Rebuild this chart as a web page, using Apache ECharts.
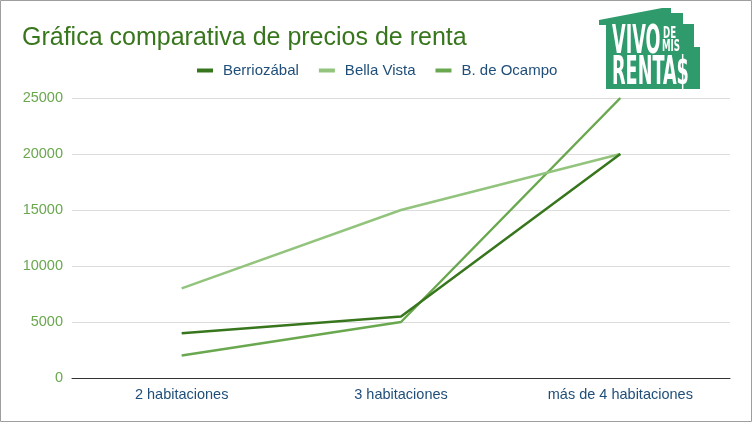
<!DOCTYPE html>
<html>
<head>
<meta charset="utf-8">
<script src="https://cdn.jsdelivr.net/npm/echarts@6/dist/echarts.min.js"></script>
<style>
html,body{margin:0;padding:0;background:#fff;}
#c{width:752px;height:422px;}
</style>
</head>
<body>
<div id="c"></div>
<script>
const titleText = 'Gráfica comparativa de precios de renta';
const categories = ['2 habitaciones', '3 habitaciones', 'más de 4 habitaciones'];
const seriesNames = ['Berriozábal', 'Bella Vista', 'B. de Ocampo'];
const berriozabal = [4000, 5500, 20000];
const bellaVista = [8000, 15000, 20000];
const ocampo = [2000, 5000, 25000];
const yTicks = [0, 5000, 10000, 15000, 20000, 25000];

const colors = ['#38761d', '#93c47d', '#6aa84f'];
const dataSets = [berriozabal, bellaVista, ocampo];

const chart = echarts.init(document.getElementById('c'), null, {renderer: 'canvas'});
const font = 'Liberation Sans, Arial, sans-serif';
const logoGreen = '#2f9a6c';

chart.setOption({
  animation: false,
  backgroundColor: '#fff',
  title: {
    text: titleText,
    left: 17, top: 21,
    textStyle: {fontFamily: font, fontSize: 25, fontWeight: 'normal', color: '#38761d'}
  },
  legend: {
    data: seriesNames,
    left: 192, top: 58,
    icon: 'rect',
    itemWidth: 16, itemHeight: 4,
    itemGap: 20,
    textStyle: {fontFamily: font, fontSize: 15, color: '#1f4e79', padding: [0, 0, 0, 5]}
  },
  grid: {left: 72, right: 22, top: 98, bottom: 44, containLabel: false},
  xAxis: {
    type: 'category',
    data: categories,
    boundaryGap: true,
    axisLine: {lineStyle: {color: '#333', width: 1}},
    axisTick: {show: false},
    axisLabel: {fontFamily: font, fontSize: 14.5, color: '#1f4e79', margin: 9}
  },
  yAxis: {
    type: 'value',
    min: yTicks[0], max: yTicks[yTicks.length - 1], interval: yTicks[1] - yTicks[0],
    axisLine: {show: false},
    axisTick: {show: false},
    splitLine: {lineStyle: {color: '#dcdcdc', width: 1}},
    axisLabel: {fontFamily: font, fontSize: 14.5, color: '#6aa84f', margin: 9, formatter: v => String(v)}
  },
  series: seriesNames.map((n, i) => ({
    name: n,
    type: 'line',
    data: dataSets[i],
    color: colors[i],
    symbol: 'none',
    lineStyle: {width: 2.5, color: colors[i]},
    z: 3 - i
  })),
  graphic: [
    {
      type: 'rect', silent: true, z: 100,
      shape: {x: 0.5, y: 0.5, width: 751, height: 421},
      style: {fill: 'none', stroke: '#9e9e9e', lineWidth: 1}
    },
    {
      type: 'group', z: 50,
      children: [
        {
          type: 'polygon',
          shape: {points: [[599, 20], [662, 8], [671, 8], [671, 13], [683, 13], [683, 24], [694, 24], [694, 47], [700, 47], [700, 89], [606, 89], [606, 25], [599, 25]]},
          style: {fill: logoGreen}
        },
        {
          type: 'text', x: 612, y: 24, scaleX: 0.56, scaleY: 1.1,
          style: {text: 'VIVO', fill: '#fff', font: 'bold 35px "DejaVu Sans Condensed", sans-serif'}
        },
        {
          type: 'text', x: 663, y: 26, scaleX: 0.6,
          style: {text: 'DE', fill: '#fff', font: 'bold 16px "DejaVu Sans Condensed", sans-serif'}
        },
        {
          type: 'text', x: 662, y: 39, scaleX: 0.6,
          style: {text: 'MIS', fill: '#fff', font: 'bold 16px "DejaVu Sans Condensed", sans-serif'}
        },
        {
          type: 'text', x: 612, y: 55, scaleX: 0.56, scaleY: 1.1,
          style: {text: 'RENTA$', fill: '#fff', font: 'bold 35px "DejaVu Sans Condensed", sans-serif'}
        }
      ]
    }
  ]
});
</script>
</body>
</html>
